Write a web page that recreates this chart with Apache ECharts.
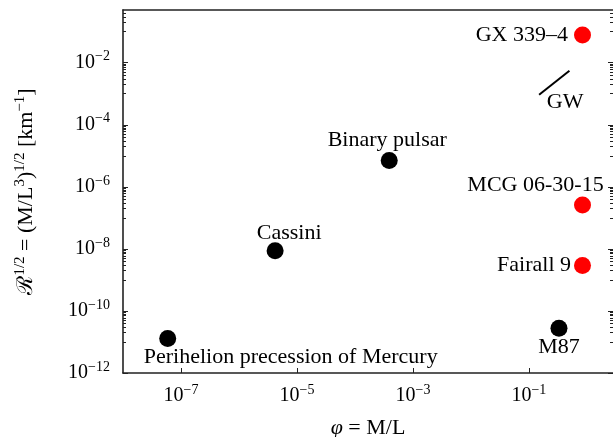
<!DOCTYPE html>
<html><head><meta charset="utf-8">
<script src="https://cdn.jsdelivr.net/npm/echarts@6/dist/echarts.min.js"></script>
<style>html,body{margin:0;padding:0;background:#fff}#c{width:613px;height:437px}</style>
</head><body><div id="c"></div>
<script>
// ---- data ----
const blackNames = ['Perihelion precession of Mercury', 'Cassini', 'Binary pulsar', 'M87'];
const blackPhi = [5.9e-8, 4.2e-6, 3.9e-4, 0.33];
const blackR = [1.3e-11, 8.7e-9, 7.1e-6, 2.75e-11];
const redNames = ['GX 339–4', 'MCG 06-30-15', 'Fairall 9'];
const redPhi = [0.84, 0.84, 0.84];
const redR = [7.8e-2, 2.6e-7, 2.9e-9];
const gwPhi = [0.15, 0.5];
const gwR = [9.3e-4, 5.5e-3];
const xTickExp = [-7, -5, -3, -1];
const yTickExp = [-12, -10, -8, -6, -4, -2];
const xRange = [1e-8, 2.82];
const yRange = [1e-12, 0.5];

// ---- styles ----
const FONT = "'Liberation Serif', 'DejaVu Serif', serif";
const INK = '#000';
const SPINE = '#222';
const L = Math.log10;

const labelCfg = {
  'Perihelion precession of Mercury': { position: 'inside', offset: [123, 19] },
  'Cassini': { position: 'inside', offset: [14, -18] },
  'Binary pulsar': { position: 'inside', offset: [-2, -20] },
  'M87': { position: 'inside', offset: [0, 19] },
  'GX 339–4': { position: 'left', distance: 6 },
  'MCG 06-30-15': { position: 'inside', offset: [-47, -20] },
  'Fairall 9': { position: 'left', distance: 3 }
};

// minor log ticks (matplotlib pattern: every other decade)
const yMinor = [];
for (let n = -11; n <= -1; n += 2) {
  for (let m = 1; m <= 9; m++) {
    const v = n + L(m);
    if (v <= L(yRange[1]) + 1e-9) yMinor.push(v);
  }
}

const rich = {
  b: { fontFamily: FONT, fontSize: 20, lineHeight: 26, color: INK },
  s: { fontFamily: FONT, fontSize: 14, lineHeight: 14, verticalAlign: 'top', color: INK },
  i: { fontFamily: FONT, fontSize: 22, lineHeight: 26, fontStyle: 'italic', color: INK },
  n: { fontFamily: FONT, fontSize: 22, lineHeight: 26, color: INK },
  ns: { fontFamily: FONT, fontSize: 15, lineHeight: 15, verticalAlign: 'top', color: INK }
};
const sup = v => { const k = Math.round(v); return k < 0 ? '−' + (-k) : '' + k; };
const fmtPow = v => '{b|10}{s|' + sup(v) + '}';

const labelBase = { show: true, fontFamily: FONT, fontSize: 22, color: INK };

function pts(names, phis, rs) {
  return names.map((nm, i) => ({
    name: nm,
    value: [L(phis[i]), L(rs[i])],
    label: Object.assign({}, labelBase, { formatter: nm }, labelCfg[nm])
  }));
}

const xMin = L(xRange[0]), xMax = L(xRange[1]);
const yMin = L(yRange[0]), yMax = L(yRange[1]);

const spineLine = { show: true, onZero: false, lineStyle: { color: SPINE, width: 1.6 } };
const noLine = { show: false, onZero: false };

const option = {
  backgroundColor: '#fff',
  animation: false,
  grid: { left: 123, right: 0, top: 10, bottom: 64, containLabel: false, outerBoundsMode: 'none' },
  xAxis: [
    {
      type: 'value', min: xMin, max: xMax, position: 'bottom',
      axisLine: spineLine,
      axisTick: { show: true, inside: true, length: 5, customValues: xTickExp, lineStyle: { color: SPINE, width: 1 } },
      axisLabel: { show: true, customValues: xTickExp, formatter: fmtPow, rich: rich, margin: 10 },
      splitLine: { show: false },
      name: '{i|φ}{n| = M/L}', nameLocation: 'middle', nameGap: 42,
      nameTextStyle: { rich: rich }
    },
    {
      type: 'value', min: xMin, max: xMax, position: 'top',
      axisLine: spineLine, axisTick: { show: false }, axisLabel: { show: false }, splitLine: { show: false }
    }
  ],
  yAxis: [
    {
      type: 'value', min: yMin, max: yMax, position: 'left',
      axisLine: spineLine,
      axisTick: { show: true, inside: true, length: 5, customValues: yTickExp, lineStyle: { color: SPINE, width: 1 } },
      axisLabel: { show: true, customValues: yTickExp, formatter: fmtPow, rich: rich, margin: 13, align: 'right' },
      splitLine: { show: false },
      name: '{n|ℛ}{ns|1/2}{n| = (M/L}{ns|3}{n|)}{ns|1/2}{n| [km}{ns|−1}{n|]}',
      nameLocation: 'middle', nameGap: 84, nameRotate: 90,
      nameTextStyle: { rich: rich }
    },
    {
      type: 'value', min: yMin, max: yMax, position: 'left',
      axisLine: noLine,
      axisTick: { show: true, inside: true, length: 3, customValues: yMinor, lineStyle: { color: SPINE, width: 1 } },
      axisLabel: { show: false }, splitLine: { show: false }
    },
    {
      type: 'value', min: yMin, max: yMax, position: 'right',
      axisLine: noLine,
      axisTick: { show: true, inside: true, length: 5, customValues: yTickExp, lineStyle: { color: SPINE, width: 1 } },
      axisLabel: { show: false }, splitLine: { show: false }
    },
    {
      type: 'value', min: yMin, max: yMax, position: 'right',
      axisLine: noLine,
      axisTick: { show: true, inside: true, length: 3, customValues: yMinor, lineStyle: { color: SPINE, width: 1 } },
      axisLabel: { show: false }, splitLine: { show: false }
    }
  ],
  series: [
    {
      type: 'line', xAxisIndex: 0, yAxisIndex: 0,
      data: gwPhi.map((p, i) => ({
        value: [L(p), L(gwR[i])],
        label: i === 0 ? Object.assign({}, labelBase, { formatter: 'GW', position: 'inside', offset: [26, 7] }) : { show: false }
      })),
      symbol: 'circle', symbolSize: 1, showSymbol: true,
      itemStyle: { color: 'rgba(0,0,0,0)' },
      lineStyle: { color: INK, width: 2 },
      z: 3
    },
    {
      type: 'scatter', xAxisIndex: 0, yAxisIndex: 0,
      data: pts(blackNames, blackPhi, blackR),
      symbol: 'circle', symbolSize: 17,
      itemStyle: { color: '#000', opacity: 1 },
      z: 4
    },
    {
      type: 'scatter', xAxisIndex: 0, yAxisIndex: 0,
      data: pts(redNames, redPhi, redR),
      symbol: 'circle', symbolSize: 17,
      itemStyle: { color: '#ff0000', opacity: 1 },
      z: 4
    }
  ]
};

const chart = echarts.init(document.getElementById('c'), null, { renderer: 'canvas' });
chart.setOption(option);
</script>
</body></html>
